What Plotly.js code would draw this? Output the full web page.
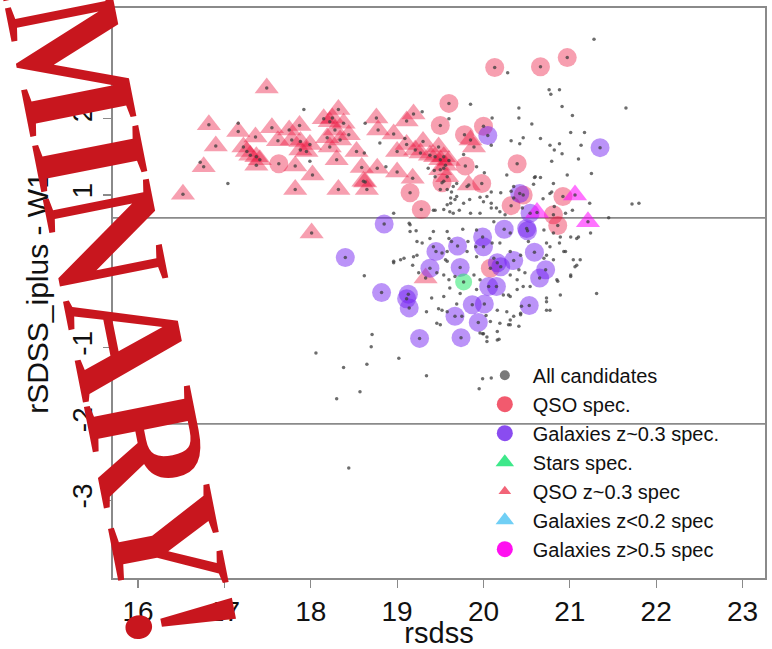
<!DOCTYPE html>
<html>
<head>
<meta charset="utf-8">
<script src="https://cdn.plot.ly/plotly-3.0.1.min.js"></script>
<style>
  html, body { margin: 0; padding: 0; background: #fff; }
  #chart { width: 772px; height: 649px; }
</style>
</head>
<body>
<div id="chart"></div>
<script>
// Colour–colour diagram: rsdss vs rSDSS_iplus - W1 for the candidate sample,
// with the spectroscopically confirmed classes overplotted.

// QSO z~0.3 spec (triangles)
const qsoTriX = [17.49,16.82,16.90,16.76,16.52,17.16,17.22,17.36,17.26,17.37,17.37,17.55,17.62,17.75,17.87,17.88,17.99,17.82,18.02,17.82,17.95,18.15,18.19,18.22,18.32,18.38,18.44,18.22,18.30,18.32,18.59,18.61,18.65,18.76,18.78,18.77,18.96,19.00,19.00,19.11,19.19,19.18,19.11,19.21,19.30,19.27,19.44,19.48,19.54,19.60,19.50,19.58,19.85,19.89,19.83,19.33,18.01,18.53,17.30,17.78,17.88,18.25,18.28,18.34,18.63,19.38,19.50,19.56,17.41];
const qsoTriY = [2.40,1.92,1.64,1.37,1.01,1.83,1.63,1.76,1.57,1.50,1.39,1.88,1.71,1.85,1.91,1.70,1.66,1.38,1.26,1.07,1.57,2.00,1.75,1.96,2.12,1.94,1.79,1.63,1.46,1.07,1.36,1.18,1.07,2.01,1.85,1.35,1.80,1.57,1.30,1.97,2.06,1.22,1.66,1.59,1.70,1.55,1.50,1.63,1.50,1.45,1.33,1.24,1.72,1.63,1.13,-0.09,0.50,1.57,1.52,1.72,1.59,2.01,1.85,1.72,1.17,1.52,1.46,1.39,1.46];

// QSO spec. (circles)
const qsoX = [17.63,19.60,19.50,19.78,20.00,19.15,19.28,19.52,19.98,19.79,20.13,20.66,20.97,20.39,20.32,20.92,20.46,20.08,20.81,20.86];
const qsoY = [1.41,2.20,1.91,1.79,1.90,1.03,0.81,1.16,1.15,1.38,2.67,2.68,2.80,1.41,0.86,0.98,1.00,0.04,0.74,0.60];

// Galaxies z~0.3 spec.
const galX = [18.85,18.40,18.82,19.13,19.11,19.14,19.26,19.45,19.70,19.38,19.73,19.99,20.00,20.24,20.42,20.50,20.51,20.54,20.16,20.20,20.35,20.59,20.72,20.65,20.06,20.15,19.87,20.01,19.67,19.94,19.74,20.53,20.05,21.35];
const galY = [0.62,0.18,-0.28,-0.30,-0.36,-0.48,-0.88,0.26,0.33,0.04,0.05,0.45,0.32,0.55,1.02,0.56,0.53,0.76,0.11,0.06,0.14,0.25,0.02,-0.09,-0.20,-0.20,-0.44,-0.43,-0.59,-0.67,-0.87,-0.45,1.78,1.62];

// Stars spec.
const starX = [19.77];
const starY = [-0.14];

// Galaxies z<0.2 spec (none in this field)
const galLowX = [];
const galLowY = [];

// Galaxies z>0.5 spec
const galHighX = [21.06,21.21,20.62];
const galHighY = [1.00,0.65,0.77];

// Remaining candidates without spectra
const candX = [21.28,20.28,20.76,20.88,20.78,21.65,20.41,20.41,20.91,21.03,20.56,19.85,20.10,19.29,19.60,21.01,21.17,20.32,20.46,20.42,20.66,20.77,20.82,20.88,20.91,20.09,21.13,20.79,21.10,19.77,20.27,20.59,20.66,20.97,21.25,20.01,19.92,20.09,20.20,20.32,20.58,20.81,20.69,20.79,21.23,21.72,21.80,19.63,19.67,19.84,19.96,20.00,20.09,20.15,19.42,19.72,19.61,19.96,18.96,21.03,21.45,20.95,17.92,17.16,18.63,18.80,19.09,18.62,19.36,19.43,19.54,18.87,17.99,16.72,17.04,19.44,19.54,19.50,19.62,19.65,19.62,19.44,19.54,19.65,19.69,19.58,19.77,19.85,20.04,20.09,20.19,20.25,20.35,20.45,20.77,20.82,20.35,19.81,19.58,19.69,19.15,19.22,19.42,19.58,19.76,19.92,20.12,20.31,20.70,20.81,21.01,21.10,21.24,19.23,19.29,19.60,19.63,19.82,19.91,20.10,20.19,20.52,20.73,20.88,19.04,18.96,19.08,19.19,19.52,19.58,19.81,19.92,20.12,20.31,20.43,20.73,20.93,21.04,21.06,18.62,19.25,19.46,19.54,19.60,19.67,19.89,19.96,20.31,20.39,20.48,20.85,21.01,21.31,19.40,19.54,19.61,19.73,19.92,20.29,20.39,20.73,20.89,19.34,19.52,19.58,19.75,20.16,20.27,20.35,20.43,20.73,19.46,19.50,20.08,20.19,20.31,20.31,20.41,20.16,19.96,20.04,18.71,18.70,18.06,19.02,20.16,20.04,21.08,20.89,21.12,21.01,21.08,20.77,20.81,20.95,20.86,20.73,20.77,20.44,20.31,20.23,20.43,20.29,20.00,20.18,20.54,20.46,20.41,20.70,20.60,18.38,18.30,18.57,18.65,19.34,19.99,20.09,19.95,18.44,19.48,19.69,20.03,19.99,19.14,18.96,19.18,19.23,19.15,19.38,19.42,19.58,19.56];
const candY = [3.04,2.60,2.38,2.38,2.32,2.14,2.14,2.01,2.16,2.04,1.93,2.19,2.01,2.09,2.00,1.82,1.82,1.71,1.75,1.67,1.74,1.65,1.59,1.67,1.54,1.65,1.65,1.44,1.47,1.53,1.26,1.23,1.23,1.26,1.28,1.29,1.37,1.04,1.03,1.05,1.14,1.15,0.95,1.04,0.89,0.88,0.89,1.04,0.94,0.94,0.97,0.91,0.83,0.83,0.80,0.80,0.78,0.76,0.76,0.80,0.70,0.76,2.12,1.94,1.94,1.68,1.74,1.55,1.35,1.32,1.35,1.37,1.44,1.43,1.15,1.24,1.18,1.07,0.96,1.11,0.89,0.80,0.81,0.76,0.98,0.87,0.89,0.76,0.98,0.89,0.78,0.74,0.96,0.83,1.02,0.85,1.11,1.11,1.07,1.15,0.61,0.53,0.52,0.52,0.55,0.54,0.65,0.50,0.54,0.50,0.45,0.45,0.50,0.39,0.37,0.43,0.39,0.39,0.32,0.37,0.37,0.39,0.37,0.37,0.15,0.13,0.17,0.19,0.24,0.13,0.26,0.19,0.17,0.26,0.21,0.21,0.26,0.15,0.06,-0.06,-0.02,-0.02,-0.05,-0.11,-0.07,-0.05,-0.11,-0.05,-0.11,-0.02,-0.11,-0.07,-0.29,-0.35,-0.33,-0.22,-0.29,-0.24,-0.31,-0.24,-0.35,-0.31,-0.53,-0.51,-0.53,-0.59,-0.51,-0.53,-0.59,-0.57,-0.51,-0.68,-0.70,-0.66,-0.68,-0.64,-0.70,-0.72,-0.79,-0.81,-0.86,-0.83,-0.99,-1.07,-1.14,-0.90,-0.92,0.43,0.45,0.15,-0.05,0.08,0.32,0.15,0.26,-0.13,-0.40,-0.51,-0.46,-0.33,-0.31,-0.55,-0.70,-0.82,-0.89,-0.20,-0.20,0.02,0.17,1.24,-1.26,-1.67,-1.58,-1.22,-1.37,-1.41,-1.40,-1.54,-2.58,-0.49,-0.43,-0.58,-0.82,0.63,0.11,0.08,0.21,0.52,0.43,0.32,0.26,0.15];

// Selection cuts drawn as horizontal lines
const cutLines = [0.7, -2];

// Axis ticks
const xTicks = [16, 17, 18, 19, 20, 21, 22, 23];
const yTicks = [-3, -2, -1, 0, 1, 2];
const yTickText = ['-3', '-2', '-1', '0', '1', '2'];

// Every spectroscopic object is also a candidate
const allX = candX.concat(qsoTriX, qsoX, galX, starX, galLowX, galHighX);
const allY = candY.concat(qsoTriY, qsoY, galY, starY, galLowY, galHighY);

const FONT = '"Liberation Sans", Arial, Helvetica, sans-serif';

const pink = 'rgba(236, 16, 58, 0.40)';
const purple = 'rgba(112, 30, 240, 0.48)';
const green = 'rgba(40, 232, 110, 0.55)';
const cyan = 'rgba(100, 200, 245, 0.6)';
const magenta = 'rgba(255, 0, 255, 0.55)';

function pts(x, y, symbol, size, color) {
  return {
    type: 'scatter', mode: 'markers', x: x, y: y, showlegend: false,
    hoverinfo: 'skip', cliponaxis: true,
    marker: { symbol: symbol, size: size, color: color, line: { width: 0 } }
  };
}

function key(name, symbol, size, color) {
  return {
    type: 'scatter', mode: 'markers', x: [null], y: [null], name: name,
    showlegend: true, hoverinfo: 'skip',
    marker: { symbol: symbol, size: size, color: color, line: { width: 0 } }
  };
}

const traces = [
  pts(qsoTriX, qsoTriY, 'triangle-up', 21, pink),
  pts(qsoX, qsoY, 'circle', 19, pink),
  pts(galX, galY, 'circle', 19, purple),
  pts(starX, starY, 'circle', 17, green),
  pts(galLowX, galLowY, 'triangle-up', 21, cyan),
  pts(galHighX, galHighY, 'triangle-up', 21, magenta),
  pts(allX, allY, 'circle', 3.5, 'rgba(60, 60, 60, 0.75)'),

  key('All candidates', 'circle', 10, '#7a7a7a'),
  key('QSO spec.', 'circle', 16, '#f25a6e'),
  key('Galaxies z~0.3 spec.', 'circle', 16, '#8a4cf0'),
  key('Stars spec.', 'triangle-up', 16, '#3ee88a'),
  key('QSO z~0.3 spec', 'triangle-up', 11, '#f26478'),
  key('Galaxies z<0.2 spec', 'triangle-up', 16, '#70cff5'),
  key('Galaxies z>0.5 spec', 'circle', 16, '#ff10f0')
];

const shapes = cutLines.map(v => ({
  type: 'line', xref: 'paper', x0: 0, x1: 1, yref: 'y', y0: v, y1: v,
  line: { color: '#8a8a8a', width: 1.6 }, layer: 'below'
}));

const axisCommon = {
  showgrid: false, zeroline: false,
  showline: true, mirror: true, linecolor: '#8a8a8a', linewidth: 1.6,
  ticks: 'outside', ticklen: 8, tickwidth: 1.2, tickcolor: '#8a8a8a',
  tickfont: { family: FONT, size: 28, color: '#111' }
};

const layout = {
  width: 772, height: 649,
  margin: { l: 113, r: 7, t: 8, b: 71 },
  paper_bgcolor: '#fff', plot_bgcolor: '#fff',
  font: { family: FONT, color: '#111' },
  showlegend: true,
  xaxis: Object.assign({}, axisCommon, {
    range: [15.71, 23.26], tickmode: 'array', tickvals: xTicks,
    title: { text: 'rsdss', font: { family: FONT, size: 29, color: '#111' }, standoff: 4 }
  }),
  yaxis: Object.assign({}, axisCommon, {
    range: [-4.02, 3.45], tickmode: 'array', tickvals: yTicks, ticktext: yTickText,
    tickangle: -90,
    title: { text: 'rSDSS_iplus - W1', font: { family: FONT, size: 30, color: '#111' }, standoff: 10 }
  }),
  legend: {
    x: 0.558, xanchor: 'left', y: 0.39, yanchor: 'top',
    bgcolor: 'rgba(0,0,0,0)', borderwidth: 0, itemwidth: 46,
    font: { family: FONT, size: 20, color: '#111' },
    itemclick: false, itemdoubleclick: false
  },
  shapes: shapes,
  annotations: [{
    text: 'PRELIMINARY!', xref: 'paper', yref: 'paper',
    x: -0.051, y: 0.839, xanchor: 'center', yanchor: 'middle',
    showarrow: false, textangle: 78.8,
    font: { family: '"Liberation Serif", "Times New Roman", serif', size: 146, weight: 'bold', color: '#c8161e' }
  }]
};

Plotly.newPlot('chart', traces, layout, { displayModeBar: false, staticPlot: true }).then(gd => {
  // Stamp lettering is taller than it is wide: stretch it across its baseline.
  const stamp = gd.querySelector('.annotation-text-g text.annotation-text');
  if (stamp) {
    const b = stamp.getBBox();
    const cx = b.x + b.width / 2, cy = b.y + b.height / 2;
    const prev = stamp.getAttribute('transform') || '';
    stamp.setAttribute('transform',
      `translate(${cx},${cy}) scale(1,1.13) translate(${-cx},${-cy}) ${prev}`);
  }
});
</script>
</body>
</html>
